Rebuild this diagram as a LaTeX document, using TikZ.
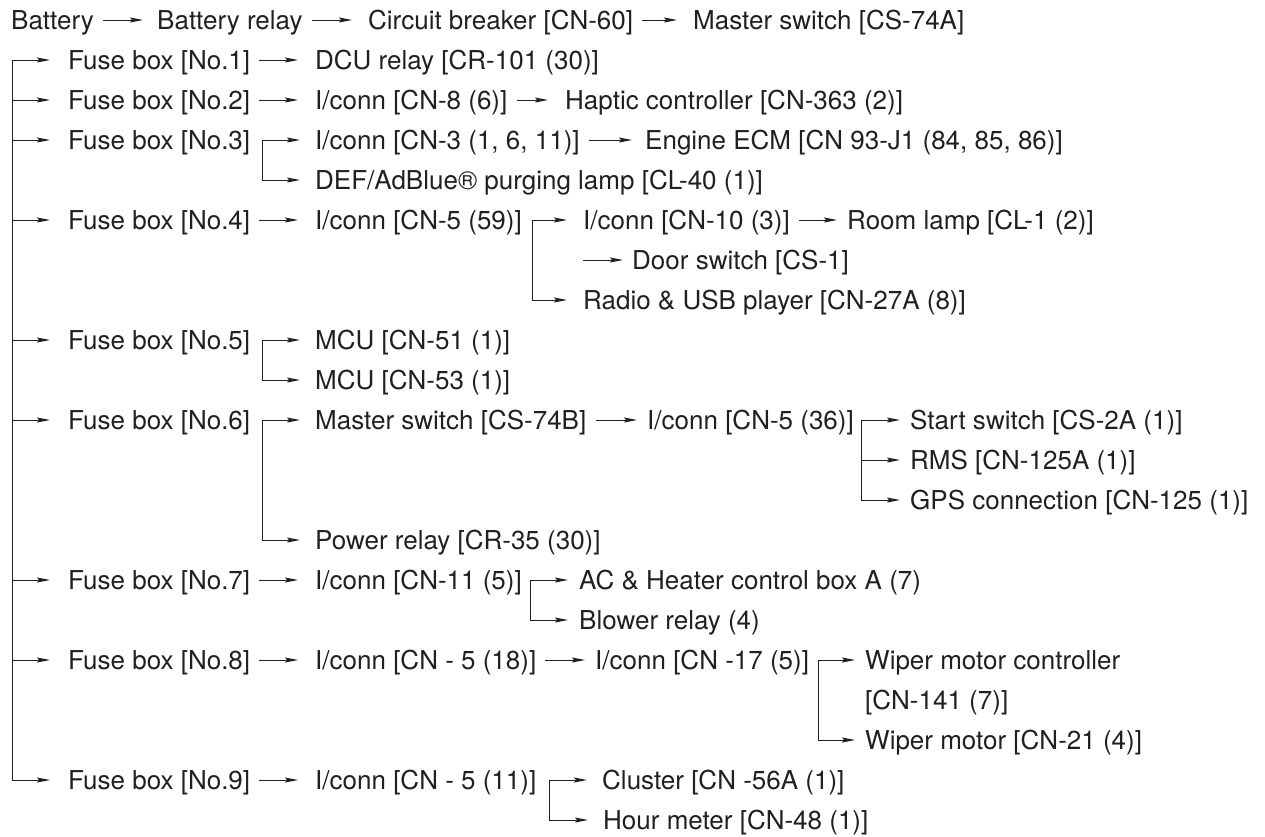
\documentclass[tikz,border=0pt]{standalone}
\usepackage{fontspec}
\setmainfont{TeX Gyre Heros}
\usetikzlibrary{arrows.meta,calc}
\definecolor{ink}{HTML}{231F20}
\begin{document}
\begin{tikzpicture}[x=1pt,y=-1pt,
  lbl/.style={anchor=west,inner sep=0pt,text height=18.7pt,text depth=0pt,
    font=\fontsize{26}{30}\selectfont,text=ink},
  wire/.style={draw=ink,line width=1pt},
  arr/.style={wire,-{Stealth[length=13pt,width=5pt,inset=2pt]},shorten <=9pt,shorten >=16pt},
  barr/.style={wire,-{Stealth[length=13pt,width=5pt,inset=2pt]},shorten >=15pt},
]
\useasboundingbox (0,0) rectangle (1265,836);
% row 0
\node[lbl] (bat) at (11,20) {Battery};
\node[lbl] (brl) at (157,20) {Battery relay};
\node[lbl] (cb) at (368,20) {Circuit breaker [CN-60]};
\node[lbl] (ms) at (693,20) {Master switch [CS-74A]};
% fuse boxes
\node[lbl] (fb1) at (68,60) {Fuse box [No.1]};
\node[lbl] (fb2) at (68,100) {Fuse box [No.2]};
\node[lbl] (fb3) at (68,140) {Fuse box [No.3]};
\node[lbl] (fb4) at (68,220) {Fuse box [No.4]};
\node[lbl] (fb5) at (68,340) {Fuse box [No.5]};
\node[lbl] (fb6) at (68,420) {Fuse box [No.6]};
\node[lbl] (fb7) at (68,580) {Fuse box [No.7]};
\node[lbl] (fb8) at (68,660) {Fuse box [No.8]};
\node[lbl] (fb9) at (68,780) {Fuse box [No.9]};
% others
\node[lbl] (dcu) at (315,60) {DCU relay [CR-101 (30)]};
\node[lbl] (ic8) at (315,100) {I/conn [CN-8 (6)]};
\node[lbl] (hap) at (565,100) {Haptic controller [CN-363 (2)]};
\node[lbl] (ic3) at (315,140) {I/conn [CN-3 (1, 6, 11)]};
\node[lbl] (ecm) at (645,140) {Engine ECM [CN 93-J1 (84, 85, 86)]};
\node[lbl] (def) at (315,180) {DEF/AdBlue® purging lamp [CL-40 (1)]};
\node[lbl] (ic5a) at (315,220) {I/conn [CN-5 (59)]};
\node[lbl] (ic10) at (583,220) {I/conn [CN-10 (3)]};
\node[lbl] (room) at (847,220) {Room lamp [CL-1 (2)]};
\node[lbl] (door) at (632,260) {Door switch [CS-1]};
\node[lbl] (radio) at (583,300) {Radio \& USB player [CN-27A (8)]};
\node[lbl] (mcu1) at (315,340) {MCU [CN-51 (1)]};
\node[lbl] (mcu2) at (315,380) {MCU [CN-53 (1)]};
\node[lbl] (msb) at (315,420) {Master switch [CS-74B]};
\node[lbl] (ic5b) at (647,420) {I/conn [CN-5 (36)]};
\node[lbl] (start) at (910,420) {Start switch [CS-2A (1)]};
\node[lbl] (rms) at (910,460) {RMS [CN-125A (1)]};
\node[lbl] (gps) at (910,500) {GPS connection [CN-125 (1)]};
\node[lbl] (prl) at (315,540) {Power relay [CR-35 (30)]};
\node[lbl] (ic11) at (315,580) {I/conn [CN-11 (5)]};
\node[lbl] (ac) at (579,580) {AC \& Heater control box A (7)};
\node[lbl] (blw) at (579,620) {Blower relay (4)};
\node[lbl] (ic5c) at (315,660) {I/conn [CN - 5 (18)]};
\node[lbl] (ic17) at (595,660) {I/conn [CN -17 (5)]};
\node[lbl] (wmc) at (865,660) {Wiper motor controller};
\node[lbl] (wmc2) at (865,700) {[CN-141 (7)]};
\node[lbl] (wm) at (865,740) {Wiper motor [CN-21 (4)]};
\node[lbl] (ic5d) at (315,780) {I/conn [CN - 5 (11)]};
\node[lbl] (clu) at (602,780) {Cluster [CN -56A (1)]};
\node[lbl] (hm) at (603,820) {Hour meter [CN-48 (1)]};
% coordinates
\coordinate (t1) at (12,60);
\coordinate (t2) at (12,100);
\coordinate (t3) at (12,140);
\coordinate (t4) at (12,220);
\coordinate (t5) at (12,340);
\coordinate (t6) at (12,420);
\coordinate (t7) at (12,580);
\coordinate (t8) at (12,660);
\coordinate (t9) at (12,780);
\coordinate (b3) at (262,140);
\coordinate (b4) at (532,220);
\coordinate (b5) at (262,340);
\coordinate (b6) at (262,420);
\coordinate (b6b) at (861,420);
\coordinate (b7) at (530,580);
\coordinate (b8) at (818,660);
\coordinate (b9) at (549,780);
\coordinate (dsrc) at (583,260);
% row 0 chain
\draw[arr,shorten >=14pt] (bat.east) -- (brl.west);
\draw[arr,shorten >=16pt] (brl.east) -- (cb.west);
\draw[arr,shorten >=16pt] (cb.east) -- (ms.west);
% trunk
\draw[wire] (t1) -- (t9);
\foreach \t/\f in {t1/fb1,t2/fb2,t3/fb3,t4/fb4,t5/fb5,t6/fb6,t7/fb7,t8/fb8,t9/fb9}
  \draw[barr,shorten >=18pt] (\t) -- (\f.west);
% straight arrows
\draw[arr,shorten >=17pt] (fb1.east) -- (dcu.west);
\draw[arr,shorten >=17pt] (fb2.east) -- (ic8.west);
\draw[arr,shorten >=17pt] (ic8.east) -- (hap.west);
\draw[arr,shorten >=13pt] (ic3.east) -- (ecm.west);
\draw[arr,shorten >=17pt] (fb4.east) -- (ic5a.west);
\draw[arr,shorten >=10pt] (ic10.east) -- (room.west);
\draw[barr,shorten >=9pt] (dsrc) -- (door.west);
\draw[arr,shorten >=10pt] (msb.east) -- (ic5b.west);
\draw[arr,shorten >=17pt] (fb7.east) -- (ic11.west);
\draw[arr,shorten >=17pt] (fb8.east) -- (ic5c.west);
\draw[arr,shorten >=10pt] (ic5c.east) -- (ic17.west);
\draw[arr,shorten >=17pt] (fb9.east) -- (ic5d.west);
% branches
\draw[barr] (b3) -- (ic3.west);
\draw[barr] (b3) |- (def.west);
\draw[barr,shorten >=16pt] (b4) -- (ic10.west);
\draw[barr,shorten >=16pt] (b4) |- (radio.west);
\draw[barr] (b5) -- (mcu1.west);
\draw[barr] (b5) |- (mcu2.west);
\draw[barr] (b6) -- (msb.west);
\draw[barr] (b6) |- (prl.west);
\draw[barr,shorten >=10pt] (b6b) -- (start.west);
\draw[barr,shorten >=10pt] (b6b) |- (rms.west);
\draw[barr,shorten >=10pt] (b6b) |- (gps.west);
\draw[barr,shorten >=11pt] (b7) -- (ac.west);
\draw[barr,shorten >=11pt] (b7) |- (blw.west);
\draw[barr,shorten >=10pt] (b8) -- (wmc.west);
\draw[barr,shorten >=10pt] (b8) |- (wm.west);
\draw[barr] (b9) -- (clu.west);
\draw[barr] (b9) |- (hm.west);
\end{tikzpicture}
\end{document}
